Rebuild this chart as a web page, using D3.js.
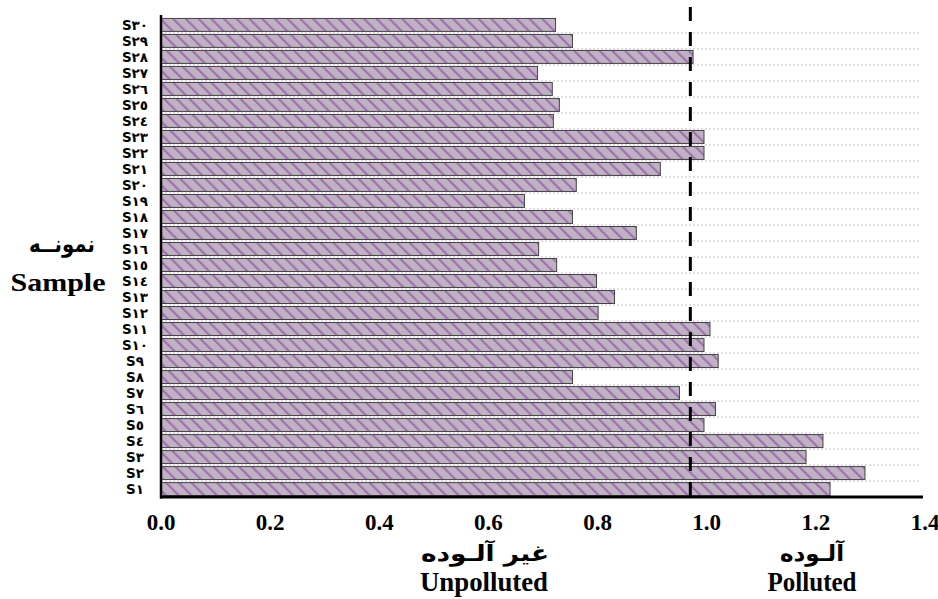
<!DOCTYPE html>
<html>
<head>
<meta charset="utf-8">
<script src="https://cdn.jsdelivr.net/npm/d3@7"></script>
<style>
  body { margin: 0; background: #fff; }
  svg { display: block; }
</style>
</head>
<body>
<div id="chart"></div>
<script>
// samples from top (S30) to bottom (S1)
const samples = ["S٣٠","S٢٩","S٢٨","S٢٧","S٢٦","S٢٥","S٢٤","S٢٣","S٢٢","S٢١",
                 "S٢٠","S١٩","S١٨","S١٧","S١٦","S١٥","S١٤","S١٣","S١٢","S١١",
                 "S١٠","S٩","S٨","S٧","S٦","S٥","S٤","S٣","S٢","S١"];
const values = [0.723, 0.754, 0.975, 0.690, 0.717, 0.730, 0.719, 0.995, 0.995, 0.915,
                0.761, 0.666, 0.754, 0.871, 0.692, 0.725, 0.798, 0.831, 0.801, 1.006,
                0.995, 1.021, 0.754, 0.950, 1.016, 0.995, 1.213, 1.182, 1.290, 1.226];
const xTicks = [0, 0.2, 0.4, 0.6, 0.8, 1.0, 1.2, 1.4];
const threshold = 0.97;

const width = 938, height = 599;
const plotLeft = 161, plotRight = 925, plotTop = 17, plotBottom = 497;

const svg = d3.select("#chart").append("svg")
    .attr("width", width)
    .attr("height", height);

const defs = svg.append("defs");
const pat = defs.append("pattern")
    .attr("id", "hatch")
    .attr("patternUnits", "userSpaceOnUse")
    .attr("width", 9)
    .attr("height", 9)
    .attr("patternTransform", "rotate(-45)");
pat.append("rect").attr("width", 9).attr("height", 9).attr("fill", "#bfb3c3");
pat.append("rect").attr("x", 0).attr("width", 2.2).attr("height", 9).attr("fill", "#a070b0");

const x = d3.scaleLinear().domain([0, 1.4]).range([plotLeft, plotRight]);
const y = d3.scaleBand().domain(samples).range([plotTop, plotBottom]).paddingInner(0.19).paddingOuter(0.09);

// dotted grid lines between bands
const gridYs = samples.slice(1).map(s => y(s) - y.step() * y.paddingInner() / 2);
svg.append("g").selectAll("line")
    .data(gridYs)
    .join("line")
    .attr("x1", plotLeft).attr("x2", 920)
    .attr("y1", d => d).attr("y2", d => d)
    .attr("stroke", "#c2c2c2")
    .attr("stroke-width", 1)
    .attr("stroke-dasharray", "2,2");

// bars
svg.append("g").selectAll("rect")
    .data(values)
    .join("rect")
    .attr("x", plotLeft)
    .attr("y", (d, i) => y(samples[i]))
    .attr("width", d => x(d) - plotLeft)
    .attr("height", y.bandwidth())
    .attr("fill", "url(#hatch)")
    .attr("stroke", "#444")
    .attr("stroke-width", 1);

// threshold dashed line
svg.append("line")
    .attr("x1", x(threshold)).attr("x2", x(threshold))
    .attr("y1", 7).attr("y2", plotBottom)
    .attr("stroke", "#000")
    .attr("stroke-width", 3)
    .attr("stroke-dasharray", "14,11");

// axes lines
svg.append("line")
    .attr("x1", plotLeft).attr("x2", plotLeft)
    .attr("y1", 15).attr("y2", plotBottom + 1.5)
    .attr("stroke", "#000").attr("stroke-width", 2.5);
svg.append("line")
    .attr("x1", plotLeft - 1).attr("x2", 923)
    .attr("y1", plotBottom).attr("y2", plotBottom)
    .attr("stroke", "#000").attr("stroke-width", 3);

// y labels
svg.append("g").selectAll("text")
    .data(samples)
    .join("text")
    .attr("x", 135)
    .attr("y", d => y(d) + y.bandwidth() / 2)
    .attr("dy", "0.36em")
    .attr("text-anchor", "middle")
    .attr("font-family", "'DejaVu Sans', sans-serif")
    .attr("font-weight", "bold")
    .attr("font-size", 13.5)
    .attr("direction", "ltr")
    .text(d => d);

// x tick labels
svg.append("g").selectAll("text")
    .data(xTicks)
    .join("text")
    .attr("x", d => x(d))
    .attr("y", 530)
    .attr("text-anchor", "middle")
    .attr("font-family", "'Liberation Serif', serif")
    .attr("font-weight", "bold")
    .attr("font-size", 23)
    .text(d => d.toFixed(1));

// axis titles
const serif = "'Liberation Serif', serif";
const arab = "'DejaVu Sans', sans-serif";
function title(txt, cx, by, fam, size, len) {
    svg.append("text")
        .attr("x", cx - len / 2).attr("y", by)
        .attr("font-family", fam).attr("font-weight", "bold").attr("font-size", size)
        .attr("textLength", len).attr("lengthAdjust", "spacingAndGlyphs")
        .text(txt);
}
title("نمونــه", 62, 252, arab, 23, 66);
title("Sample", 58, 291, serif, 25, 95);
title("غیر آلـوده", 485, 561, arab, 22, 128);
title("Unpolluted", 484, 591, serif, 27, 128);
title("آلـوده", 812, 561, arab, 22, 64);
title("Polluted", 812, 591, serif, 27, 89);
</script>
</body>
</html>
